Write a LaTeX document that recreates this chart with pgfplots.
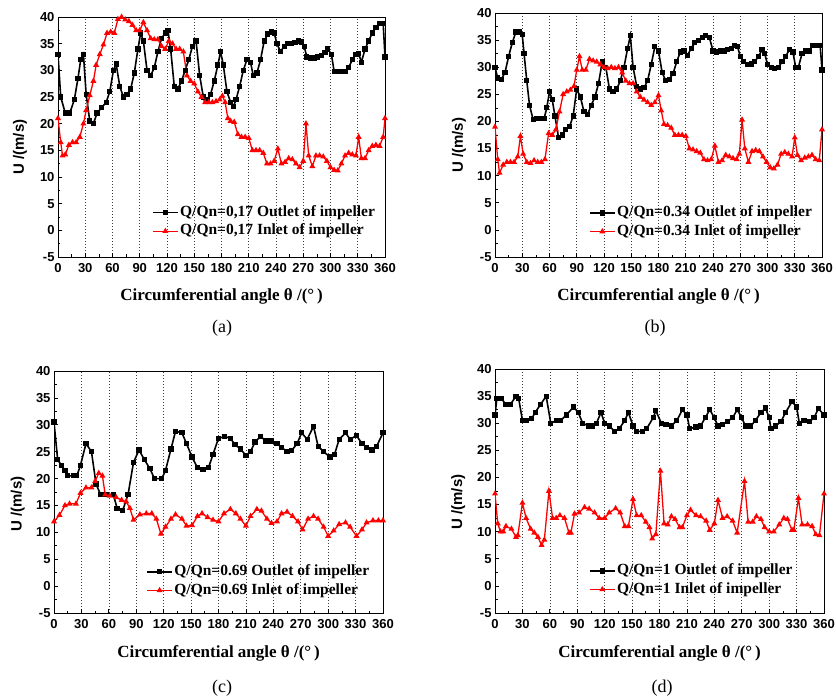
\documentclass[border=0pt]{standalone}
\usepackage{pgfplots}
\pgfplotsset{compat=1.18}
\usepackage{fontspec}
\setmainfont{Liberation Serif}
\newfontfamily\sansf{Liberation Sans}
\newcommand\tickfont{\sansf\bfseries\fontsize{13bp}{15bp}\selectfont}
\newcommand\legfont{\rmfamily\bfseries\fontsize{15.5bp}{17bp}\selectfont}
\newcommand\xlabfont{\rmfamily\bfseries\fontsize{17bp}{19bp}\selectfont}
\newcommand\ylabfont{\sansf\bfseries\fontsize{15bp}{17bp}\selectfont}
\newcommand\subfont{\rmfamily\fontsize{18bp}{20bp}\selectfont}
\pgfplotsset{
  myax/.style={
    scale only axis, width=327bp, height=242bp,
    xmin=0, xmax=360, ymin=-5, ymax=40,
    xtick={0,30,...,360}, ytick={-5,0,...,40},
    minor x tick num=1, minor y tick num=1,
    tick align=inside, xtick pos=lower, ytick pos=left,
    xmajorgrids, major x grid style={black!75, line width=0.6bp, dash pattern=on 1bp off 2bp},
    /pgf/number format/assume math mode=true,
    tick label style={font=\tickfont},
    xticklabel style={yshift=-3bp},
    axis line style={line width=0.9bp},
    major tick length=4bp, minor tick length=2.5bp,
    every tick/.style={black, line width=0.7bp},
    xlabel={Circumferential angle θ /(°\,)},
    ylabel={U /(m/s)},
    xlabel style={font=\xlabfont, at={(axis description cs:0.5,-0.163)}, anchor=center},
    ylabel style={font=\ylabfont, anchor=center},
    legend cell align=left,
    legend style={draw=none, fill=none, font=\legfont, anchor=north west, inner sep=0pt, row sep=1bp,
      nodes={inner sep=1.5bp, text height=11bp, text depth=3.5bp}},
    legend image code/.code={\draw[mark repeat=2,mark phase=2] plot coordinates {(0bp,0bp)(12.5bp,0bp)(25bp,0bp)};},
  },
  blk/.style={black, line width=1.6bp, mark=square*, mark size=1.8bp, mark options={solid}},
  rd/.style={red, line width=1.3bp, mark=triangle*, mark size=2.2bp, mark options={solid}},
}
\begin{document}
\begin{tikzpicture}
\useasboundingbox (0,0) rectangle (836bp,-700bp);
% (a)
\begin{axis}[myax, at={(58bp,-17bp)}, anchor=north west, height=240bp,
  ylabel style={at={(axis description cs:-0.116,0.458)}},
  legend style={at={(0.287,0.222)}}]
\addplot[blk] coordinates {(0,33)(3,25)(8,22)(13,22)(18,24.5)(22,28.5)(25,32)(28,33)(31,25.5)(35,20.5)(39,20)(43,22)(48,23)(53,24)(57,26)(61,30)(64,31.2)(68,27)(72,25)(76,25.5)(80,26.5)(84,29.5)(88,34)(91,37)(94,35.5)(98,30)(102,29)(106,30.5)(110,33.5)(114,36)(118,37)(121,37.5)(124,34)(128,27)(132,26.5)(136,28)(140,30)(144,32)(148,34.5)(152,35.5)(156,29)(160,25)(164,24.5)(168,25.5)(172,28)(176,31)(179,33.5)(182,31)(186,26)(190,24)(193,23.2)(196,24.5)(200,27)(204,30)(208,32)(212,31.5)(215,29)(219,29.5)(223,32)(227,35.5)(231,36.8)(235,37.2)(238,37)(241,35)(245,33.5)(249,34.5)(253,35)(257,35)(261,35.2)(265,35.5)(268,35.3)(271,34.5)(274,32.5)(278,32.3)(282,32.3)(286,32.5)(290,32.8)(294,33.3)(297,34)(301,33)(304,29.8)(308,29.8)(312,29.8)(316,29.8)(320,30.5)(324,32)(328,33)(331,33.2)(334,31.5)(338,34)(342,35.5)(346,37)(350,38)(354,38.8)(358,38.8)(360,32.5)};
\addlegendentry{Q/Qn=0,17 Outlet of impeller}
\addplot[rd] coordinates {(0,21)(3,16.5)(5,14)(8,14.2)(12,16)(16,16.5)(20,16.5)(24,17.5)(28,20)(31,22.5)(35,25.3)(39,28)(42,31)(46,33)(50,34.8)(54,37)(58,37.2)(62,37)(66,39.6)(70,40)(74,39.5)(78,39.2)(82,38.5)(86,37.5)(90,37.5)(94,39)(98,37.5)(102,36)(106,35.8)(110,35.8)(114,34.5)(118,34)(122,35.5)(126,35)(130,34)(134,34)(138,33.5)(142,29)(146,28)(150,27.5)(154,26)(158,25)(162,24)(166,24)(170,24)(174,24.2)(178,24.5)(181,25.2)(184,24)(187,21)(190,20.5)(194,20.3)(198,18)(202,17.5)(206,17.5)(210,17.3)(214,15)(218,15)(222,15)(226,14.5)(230,12.5)(234,12.5)(238,13)(242,15.3)(246,12.5)(250,12.8)(254,13.5)(258,13.3)(262,12.5)(266,11.8)(270,13)(273,20)(276,14)(280,12)(284,14)(288,14)(292,13.8)(296,13)(300,11.8)(304,11.3)(308,11.2)(312,12.5)(316,14)(320,14.5)(324,14.2)(328,14)(331,17.5)(334,13.5)(338,13.5)(342,15)(346,15.8)(350,16)(354,15.8)(358,17.5)(360,21)};
\addlegendentry{Q/Qn=0,17 Inlet of impeller}
\end{axis}
% (b)
\begin{axis}[myax, at={(495bp,-13bp)}, anchor=north west, height=244bp,
  ylabel style={at={(axis description cs:-0.11,0.458)}},
  legend style={at={(0.287,0.217)}}]
\addplot[blk] coordinates {(0,30)(3,28)(7,27.8)(11,29)(15,32)(19,34.5)(23,36.5)(27,36.5)(30,36)(32,32.5)(35,27.5)(38,23)(42,20.3)(46,20.5)(50,20.5)(54,20.5)(57,22.5)(60,25.5)(63,24)(66,21)(70,17)(74,17.5)(78,18.5)(82,19)(86,21)(90,26)(94,24.5)(98,21.8)(102,21.3)(106,23)(110,24.5)(114,27)(118,31)(122,30)(126,26)(130,25.5)(134,26)(138,27.5)(142,30)(146,33.5)(149,35.8)(152,30)(156,26.5)(160,26)(164,26.2)(168,27.5)(172,30.5)(176,33.8)(180,33)(184,29)(188,27.5)(192,27.8)(196,28.8)(200,31)(204,32.8)(208,33)(212,32.2)(216,33.5)(220,34.5)(224,35)(228,35.5)(232,35.8)(236,35.5)(240,33)(244,32.8)(248,33)(252,33)(256,33.2)(260,33.5)(264,34)(267,33.8)(270,32)(274,31)(278,30.5)(282,30.6)(286,31)(290,32)(294,33.2)(297,32.5)(300,30.5)(304,30)(308,29.8)(312,30)(316,31)(320,32)(324,33.2)(328,32.8)(331,30)(334,30)(338,32.5)(342,33)(346,33)(350,34)(354,34)(358,34)(360,29.5)};
\addlegendentry{Q/Qn=0.34 Outlet of impeller}
\addplot[rd] coordinates {(0,19)(3,13)(5,10.5)(9,12)(13,12.5)(17,12.5)(21,12.5)(25,13.5)(28,17.3)(31,14)(35,12.5)(39,12.3)(43,12.8)(47,12.5)(51,12.5)(55,13)(59,17.8)(63,17.5)(67,18.5)(71,21.8)(75,25)(79,25.5)(83,25.8)(87,26.5)(90,29.5)(93,32)(96,29.5)(100,29.5)(104,31.5)(108,31.2)(112,31)(116,30.5)(120,30)(124,29.8)(128,30)(132,29.8)(136,30)(140,29)(144,27.5)(148,27)(152,27)(156,25.5)(160,24.5)(164,24)(168,23.5)(172,23)(176,23.5)(180,24.8)(183,22)(186,19.5)(190,19.3)(194,18.8)(198,17.5)(202,17.5)(206,17.5)(210,17.3)(214,15)(218,14.8)(222,14.5)(226,14.2)(230,13)(234,12.8)(238,13)(242,15.5)(246,12.5)(250,12.8)(254,13.8)(258,13.5)(262,13.2)(266,13)(269,14)(272,20.3)(275,15)(279,12.5)(283,14.5)(287,14.7)(291,14.5)(295,13.5)(299,12.5)(303,11.5)(307,11.3)(311,12)(315,14)(319,14.3)(323,14)(327,13.5)(330,17)(333,13.8)(337,12.8)(341,13.3)(345,13.5)(349,13.8)(353,13)(357,12.8)(360,18.5)};
\addlegendentry{Q/Qn=0.34 Inlet of impeller}
\end{axis}
% (c)
\begin{axis}[myax, at={(54bp,-371bp)}, anchor=north west, width=329bp, height=242bp,
  ylabel style={at={(axis description cs:-0.11,0.45)}},
  xlabel style={at={(axis description cs:0.5,-0.165)}},
  legend style={at={(0.28,0.207)}}]
\addplot[blk] coordinates {(0,30.5)(4,23.5)(8,22.5)(12,21.5)(15,20.5)(21,20.5)(25,20.5)(29,22.5)(35,26.5)(41,25)(46,19)(51,17)(57,17)(65,17)(69,14.5)(75,14)(81,17)(87,23)(93,25.3)(99,23.5)(105,21.8)(110,20)(118,20)(122,21.5)(128,25.5)(133,28.8)(140,28.5)(145,26.5)(151,24)(157,22)(163,21.7)(169,22)(174,24.5)(180,27.5)(187,27.8)(193,27.5)(198,26.3)(204,25.5)(210,24.3)(215,25)(220,26.8)(226,27.8)(232,27)(238,27)(244,26.5)(249,25.8)(255,25)(260,25.2)(266,26.5)(271,28.5)(277,27.3)(284,29.7)(289,26)(295,25)(302,24)(307,24.5)(312,27.3)(319,28.5)(324,27.3)(331,28)(337,26.5)(342,25.8)(348,25.3)(353,26)(360,28.5)};
\addlegendentry{Q/Qn=0.69 Outlet of impeller}
\addplot[rd] coordinates {(0,12)(6,13.2)(12,15)(17,15.3)(24,15.3)(29,17.3)(35,18.3)(41,18.3)(45,19.5)(49,21)(53,20.5)(56,17)(61,16.8)(68,16.5)(74,16)(79,15.7)(83,14.5)(87,12.3)(94,13.3)(101,13.5)(107,13.5)(112,12.5)(117,9.7)(122,11)(128,12.5)(133,13.3)(140,12.5)(145,11.2)(151,11.3)(157,13)(162,13.5)(168,12.8)(174,12.3)(180,12)(186,13.5)(193,14.3)(199,13.5)(204,12.5)(210,11.2)(215,13)(222,14.3)(227,14)(233,12.5)(238,11.7)(244,12)(249,13.5)(255,13.8)(261,13)(267,12)(272,10.5)(278,12.5)(284,13)(289,12.5)(295,11)(300,9.3)(306,10.3)(312,11.5)(319,11.8)(324,11)(331,9.3)(337,10.5)(342,11.8)(349,12.2)(355,12.2)(360,12.2)};
\addlegendentry{Q/Qn=0.69 Inlet of impeller}
\end{axis}
% (d)
\begin{axis}[myax, at={(495bp,-369bp)}, anchor=north west, width=329bp, height=244bp,
  ylabel style={at={(axis description cs:-0.112,0.455)}},
  xlabel style={at={(axis description cs:0.5,-0.164)}},
  legend style={at={(0.285,0.209)}}]
\addplot[blk] coordinates {(0,31.5)(2,34.5)(7,34.5)(12,33.5)(17,33.5)(23,35)(26,34.5)(30,30.5)(34,30.5)(40,30.8)(44,32)(50,33.5)(56,35)(61,30)(67,30.5)(72,30.5)(78,31.5)(86,33)(91,32)(96,30)(102,29.5)(107,29.5)(111,30)(116,32)(120,30)(125,29.5)(131,28.5)(136,29)(142,30.5)(146,32)(151,29.5)(155,28.5)(161,28.5)(166,29)(173,31)(176,32.3)(182,30)(187,29.8)(193,29.5)(199,30.5)(205,32.5)(210,31.5)(213,29)(220,29.3)(225,29.5)(230,31)(235,32.5)(240,31)(244,29.5)(249,29.8)(254,30.3)(260,31)(265,32.5)(270,31)(274,29.5)(280,29.5)(285,30.5)(291,32)(296,32.8)(300,31)(302,29)(307,29.5)(313,30.3)(318,32)(325,34)(330,33)(333,30)(338,30.5)(344,30.3)(349,31)(354,32.7)(360,31.5)};
\addlegendentry{Q/Qn=1 Outlet of impeller}
\addplot[rd] coordinates {(0,17)(3,11.5)(6,10)(9,10)(12,11)(18,10.5)(23,9)(25,9.3)(30,15.3)(34,12.5)(39,10.5)(43,9.8)(47,9)(51,7.5)(54,8.5)(59,17.5)(63,12.5)(67,12.5)(71,13)(76,12.5)(81,9.8)(83,9.8)(87,13.3)(92,13.5)(98,14.5)(103,14.2)(109,13.5)(114,12.5)(120,12.5)(125,13.5)(132,14.3)(137,13.5)(142,11)(146,11)(151,16)(155,13)(160,13)(165,11.8)(169,10.8)(172,8.7)(176,9.5)(181,21.2)(185,11.5)(189,11.3)(193,12.8)(197,12.3)(202,10.8)(205,10.8)(210,13)(214,14)(220,13)(225,12.8)(231,12)(235,10.3)(240,11.5)(244,15.8)(249,12.5)(254,12.8)(260,12)(265,9.8)(273,19.3)(277,11.8)(282,11.8)(286,12.8)(291,12.3)(295,10.8)(300,10)(305,10)(311,11.3)(316,12.5)(320,12.3)(325,10.3)(327,10.3)(332,16.2)(336,11.3)(342,11.3)(347,11)(351,9.5)(355,9.3)(360,17)};
\addlegendentry{Q/Qn=1 Inlet of impeller}
\end{axis}
\node[font=\subfont] at (222bp,-328bp) {(a)};
\node[font=\subfont] at (655bp,-328bp) {(b)};
\node[font=\subfont] at (222bp,-688bp) {(c)};
\node[font=\subfont] at (662bp,-688bp) {(d)};
\end{tikzpicture}
\end{document}
